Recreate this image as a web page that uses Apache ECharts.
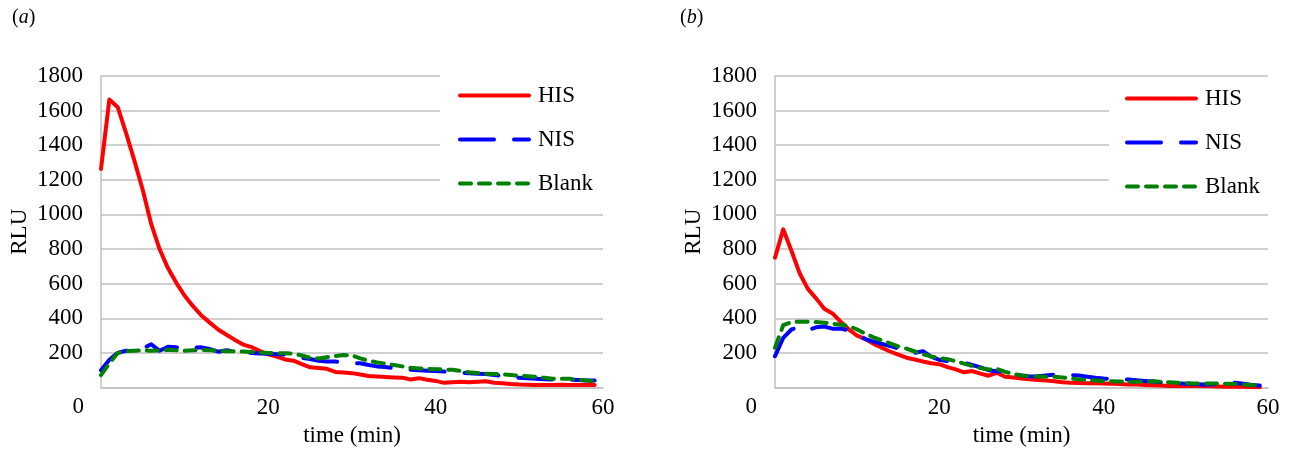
<!DOCTYPE html>
<html>
<head>
<meta charset="utf-8">
<script src="https://cdn.jsdelivr.net/npm/echarts@6/dist/echarts.min.js"></script>
<style>
html,body{margin:0;padding:0;background:#fff;}
#c{width:1292px;height:453px;}
</style>
</head>
<body>
<div id="c"></div>
<script>
// time (min)
const times = [0,1,2,3,4,5,6,7,8,9,10,11,12,13,14,15,16,17,18,19,20,21,22,23,24,25,26,27,28,29,
               30,31,32,33,34,35,36,37,38,39,40,41,42,43,44,45,46,47,48,49,50,51,52,53,54,55,56,57,58,59];
const seriesNames = ['HIS','NIS','Blank'];
const panelLabels = ['a','b'];
const xTicks = [0,20,40,60];
const yTicks = [0,200,400,600,800,1000,1200,1400,1600,1800];

// panel (a)
const hisA = [1263,1664,1620,1470,1310,1140,945,800,690,605,530,470,416,375,335,305,275,248,233,210,
              192,178,162,155,135,117,113,108,90,86,83,75,66,63,60,58,57,46,54,45,
              38,27,30,33,31,33,36,28,25,20,17,16,15,15,15,16,15,15,15,15];
const nisA = [100,160,200,212,218,225,250,212,235,232,222,230,232,222,207,215,210,205,200,197,
              195,192,190,180,172,165,155,150,150,145,142,140,130,122,118,112,107,103,100,97,
              95,92,88,85,82,80,78,72,66,60,56,53,50,48,46,45,45,43,41,40];
const blankA = [72,140,200,210,212,215,212,215,218,215,212,215,218,215,212,210,210,208,205,203,
                200,198,198,195,185,172,168,175,182,188,185,168,155,145,138,130,122,114,110,108,
                106,104,102,95,88,84,80,78,76,72,68,65,62,56,51,50,50,46,40,36];

// panel (b)
const hisB = [750,914,790,660,570,515,455,428,380,335,300,280,252,230,208,190,172,162,150,140,
              135,118,105,88,95,80,68,85,62,58,52,48,44,40,36,30,27,26,25,24,
              23,22,20,18,17,15,13,11,8,8,8,8,8,7,6,5,5,4,3,2];
const nisB = [181,287,335,350,330,348,352,340,340,330,305,280,265,252,240,225,210,200,210,178,
              160,152,148,143,130,116,100,94,88,80,70,63,65,70,74,75,72,69,62,56,
              52,50,48,46,42,38,34,30,26,23,22,20,18,17,20,25,27,22,15,12];
const blankB = [230,360,378,380,380,378,374,368,362,356,335,310,290,272,255,238,225,208,192,180,
                170,164,152,138,125,112,104,108,90,78,70,66,64,62,62,58,52,47,43,40,
                38,36,35,34,33,34,36,33,30,27,25,23,23,23,23,22,20,17,14,12];

const FONT = 'Liberation Serif';
const FS = 23;
const GRID = '#c0c0c0';
const colors = ['#ff0000','#0000ff','#008000'];
const dashes = ['solid',[34,20],[11,8]];

function pairs(vals){ return times.map((t,i)=>[t, vals[i]]); }

function mkSeries(idx, arrs){
  return arrs.map((vals,k)=>({
    type:'line', name:seriesNames[k], xAxisIndex:idx, yAxisIndex:idx,
    data:pairs(vals), symbol:'none', smooth:false, animation:false,
    lineStyle:{color:colors[k], width:4, type:dashes[k], cap:'round', join:'round'},
    itemStyle:{color:colors[k]}
  }));
}

function xAx(idx){
  return {type:'value', gridIndex:idx, min:xTicks[0], max:xTicks[xTicks.length-1], interval:20,
    name:'time (min)', nameLocation:'middle', nameGap:32,
    nameTextStyle:{fontFamily:FONT, fontSize:FS, color:'#000'},
    axisLine:{show:true, lineStyle:{color:GRID, width:1.5}},
    axisTick:{show:false}, splitLine:{show:false},
    axisLabel:{fontFamily:FONT, fontSize:FS, color:'#000', margin:9,
      formatter:v=> v===0 ? '' : String(v)}};
}
function yAx(idx){
  return {type:'value', gridIndex:idx, min:yTicks[0], max:yTicks[yTicks.length-1], interval:200,
    name:'RLU', nameLocation:'middle', nameGap:70,
    nameTextStyle:{fontFamily:FONT, fontSize:FS, color:'#000'},
    axisLine:{show:true, lineStyle:{color:GRID, width:1.5}},
    axisTick:{show:false},
    splitLine:{show:true, lineStyle:{color:GRID, width:1.5}},
    axisLabel:{fontFamily:FONT, fontSize:FS, color:'#000', margin:18,
      formatter:v=> v===0 ? '' : String(v)}};
}
function legend(left, top, pad){
  return {data:seriesNames, orient:'vertical', left:left, top:top, padding:pad,
    backgroundColor:'#fff', itemWidth:69, itemHeight:14, itemGap:21, selectedMode:false,
    itemStyle:{opacity:0, borderWidth:0},
    lineStyle:{width:4, cap:'round'},
    textStyle:{fontFamily:FONT, fontSize:FS, color:'#000', padding:[0,0,0,4]}, z:10};
}

const chart = echarts.init(document.getElementById('c'), null, {renderer:'canvas'});
chart.setOption({
  backgroundColor:'#fff',
  animation:false,
  grid:[
    {left:101, right:689, top:76, bottom:65.5},
    {left:775, right:24, top:76, bottom:65.5}
  ],
  xAxis:[xAx(0), xAx(1)],
  yAxis:[yAx(0), yAx(1)],
  legend:[legend(440, 70, [14,24,12,18]), legend(1109, 80, [7,24,12,16])],
  series:[...mkSeries(0,[hisA,nisA,blankA]), ...mkSeries(1,[hisB,nisB,blankB])],
  graphic:[
    {type:'text', left:12, top:8, style:{text:'({i|'+panelLabels[0]+'})', font:'20px '+FONT, fill:'#000',
      rich:{i:{fontStyle:'italic', fontFamily:FONT, fontSize:20}}}},
    {type:'text', left:680, top:8, style:{text:'({i|'+panelLabels[1]+'})', font:'20px '+FONT, fill:'#000',
      rich:{i:{fontStyle:'italic', fontFamily:FONT, fontSize:20}}}},
    {type:'text', right:1292-84, top:395, style:{text:String(yTicks[0]), font:FS+'px '+FONT, fill:'#000'}},
    {type:'text', right:1292-757, top:395, style:{text:String(yTicks[0]), font:FS+'px '+FONT, fill:'#000'}}
  ]
});
</script>
</body>
</html>
